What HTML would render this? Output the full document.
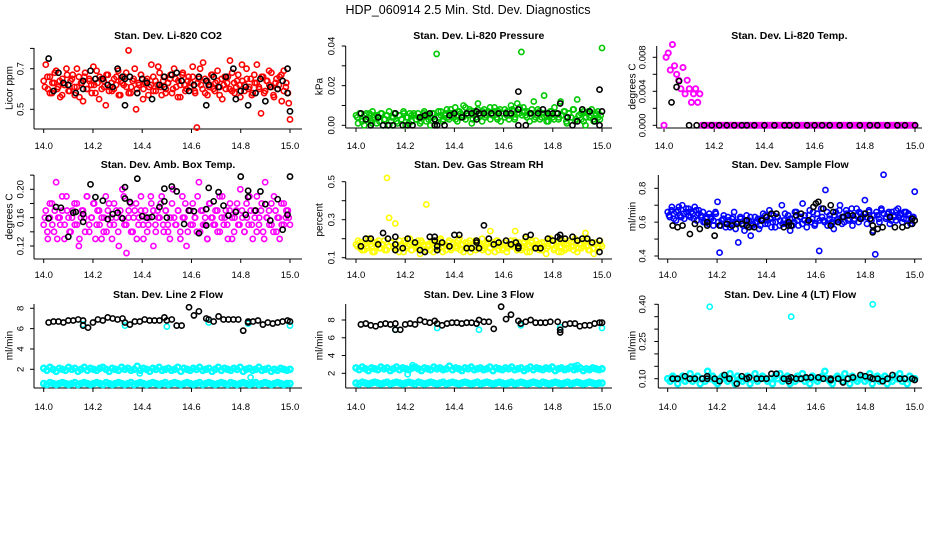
<!DOCTYPE html>
<html><head><meta charset="utf-8">
<style>
html,body{margin:0;padding:0;background:#fff;}
svg{display:block;}
text{font-family:"Liberation Sans",Arial,sans-serif;fill:#000;}
</style></head>
<body>
<svg id="chart" width="936" height="540" viewBox="0 0 936 540" xmlns="http://www.w3.org/2000/svg">
<rect width="936" height="540" fill="#fff"/>
<text x="468" y="14" text-anchor="middle" font-size="12.5">HDP_060914  2.5 Min. Std. Dev. Diagnostics</text>
</svg>
<script>
// ---------- DATA ----------
const xTicks=[14.0,14.2,14.4,14.6,14.8,15.0];
const xTickLabels=["14.0","14.2","14.4","14.6","14.8","15.0"];

const co2Red=[0.64,0.72,0.60,0.66,0.58,0.63,0.69,0.61,0.56,0.65,0.62,0.70,0.59,0.64,0.67,0.57,0.61,0.66,0.63,0.54,0.68,0.60,0.65,0.62,0.71,0.58,0.63,0.66,0.60,0.64,0.52,0.67,0.61,0.59,0.65,0.62,0.69,0.57,0.63,0.66,0.61,0.79,0.58,0.64,0.70,0.60,0.62,0.67,0.55,0.63,0.65,0.61,0.72,0.59,0.64,0.62,0.68,0.57,0.66,0.60,0.63,0.65,0.58,0.70,0.61,0.64,0.56,0.67,0.62,0.60,0.66,0.63,0.71,0.59,0.41,0.65,0.62,0.73,0.58,0.64,0.61,0.67,0.60,0.63,0.69,0.57,0.65,0.62,0.60,0.66,0.74,0.59,0.63,0.61,0.67,0.56,0.64,0.62,0.70,0.60,0.65,0.58,0.63,0.72,0.61,0.48,0.66,0.59,0.64,0.62,0.68,0.57,0.63,0.60,0.66,0.54,0.69,0.61,0.58,0.45];
const co2Red2=[0.61,0.66,0.58,0.63,0.68,0.60,0.64,0.57,0.62,0.67,0.59,0.65,0.61,0.70,0.56,0.63,0.66,0.60,0.64,0.58,0.62,0.69,0.55,0.65,0.61,0.67,0.59,0.63,0.60,0.66,0.57,0.64,0.62,0.68,0.58,0.61,0.65,0.50,0.63,0.67,0.60,0.64,0.57,0.62,0.66,0.59,0.71,0.61,0.64,0.58,0.63,0.67,0.60,0.65,0.56,0.62,0.68,0.59,0.64,0.61,0.66,0.58,0.63,0.70,0.60,0.65,0.57,0.62,0.67,0.59,0.64,0.61,0.55,0.66,0.63,0.60,0.68,0.58,0.64,0.62,0.72,0.59,0.65,0.61,0.57,0.67,0.63,0.60,0.66,0.58,0.64,0.69,0.61,0.56,0.65,0.62,0.67,0.59,0.63,0.53];
const co2BlackT=[14.02,14.04,14.06,14.08,14.10,14.13,14.16,14.16,14.19,14.21,14.24,14.26,14.28,14.30,14.32,14.33,14.33,14.35,14.38,14.40,14.42,14.44,14.47,14.49,14.49,14.52,14.54,14.56,14.59,14.61,14.63,14.66,14.66,14.67,14.69,14.71,14.74,14.77,14.78,14.80,14.82,14.83,14.86,14.88,14.90,14.92,14.95,14.97,14.99,14.99,15.00];
const co2BlackV=[0.75,0.59,0.68,0.63,0.62,0.58,0.64,0.60,0.69,0.65,0.65,0.62,0.61,0.70,0.66,0.52,0.65,0.66,0.58,0.65,0.63,0.55,0.62,0.66,0.61,0.67,0.68,0.64,0.59,0.62,0.66,0.64,0.52,0.62,0.66,0.61,0.66,0.70,0.55,0.59,0.61,0.52,0.58,0.65,0.54,0.61,0.60,0.64,0.70,0.58,0.49];

const presGreen=[.005,.001,.006,.003,.000,.006,.004,.002,.007,.005,.001,.004,.006,.000,.003,.005,.007,.002,.004,.006,.001,.005,.003,.007,.000,.004,.006,.002,.005,.003,.006,.001,.004,.007,.002,.005,.000,.006,.003,.036,.004,.007,.002,.005,.008,.003,.006,.004,.009,.002,.007,.005,.010,.003,.006,.008,.001,.007,.004,.011,.006,.002,.008,.005,.007,.003,.006,.009,.004,.007,.002,.006,.008,.005,.003,.010,.007,.004,.011,.006,.037,.009,.005,.007,.002,.006,.012,.004,.008,.003,.006,.015,.005,.002,.007,.004,.009,.006,.003,.012,.005,.007,.001,.006,.004,.008,.002,.013,.005,.003,.007,.000,.006,.004,.008,.002,.005,.007,.003,.039];
const presGreen2=[.004,.006,.002,.005,.003,.006,.001,.004,.005,.002,.006,.003,.005,.000,.004,.006,.002,.005,.003,.006,.004,.001,.005,.006,.003,.004,.002,.006,.005,.003,.004,.006,.002,.007,.005,.003,.006,.004,.008,.005,.003,.007,.006,.004,.009,.005,.007,.003,.006,.008,.005,.007,.004,.006,.009,.005,.007,.003,.008,.006,.004,.007,.005,.008,.003,.006,.009,.005,.007,.004,.006,.008,.003,.005,.007,.004,.006,.002,.005,.007,.003,.006,.004,.005,.007,.002,.006,.004,.008,.003,.005,.006,.002,.004,.007,.005,.003,.006,.004,.005];
const presBlackT=[14.02,14.04,14.06,14.09,14.11,14.13,14.15,14.16,14.19,14.21,14.23,14.26,14.28,14.30,14.32,14.32,14.33,14.36,14.38,14.40,14.43,14.45,14.47,14.49,14.49,14.50,14.52,14.55,14.58,14.61,14.63,14.66,14.66,14.66,14.69,14.71,14.74,14.76,14.78,14.80,14.82,14.83,14.86,14.88,14.90,14.92,14.95,14.97,14.99,14.99,15.00];
const presBlackV=[.006,.003,.000,.004,.000,.000,.000,.006,.000,.000,.000,.004,.005,.006,.003,.000,.000,.000,.005,.006,.004,.006,.006,.003,.007,.006,.006,.006,.006,.006,.006,.017,.008,.000,.000,.006,.006,.008,.006,.006,.006,.011,.004,.000,.002,.008,.007,.002,.000,.018,.007];

const tempMagenta=[0,.008,.0085,.0065,.0095,.007,.006,.0053,.0043,.0068,.0037,.0053,.0043,.0027,.0037,.0043,.0027,.0037,0,0,0,0,0,0,0,0,0,0,0,0,0,0,0,0,0,0,0,0,0,0,0,0,0,0,0,0,0,0,0,0,0,0,0,0,0,0,0,0,0,0,0,0,0,0,0,0,0,0,0,0,0,0,0,0,0,0,0,0,0,0,0,0,0,0,0,0,0,0,0,0,0,0,0,0,0,0,0,0,0,0,0,0,0,0,0,0,0,0,0,0,0,0,0,0,0,0,0,0,0,0];
const tempBlackT=[14.03,14.05,14.06,14.10,14.13,14.16,14.19,14.22,14.25,14.28,14.31,14.33,14.36,14.40,14.44,14.48,14.50,14.53,14.57,14.60,14.63,14.66,14.70,14.74,14.78,14.82,14.85,14.89,14.93,14.96,15.00];
const tempBlackV=[.0027,.0045,.0052,0,0,0,0,0,0,0,0,0,0,0,0,0,0,0,0,0,0,0,0,0,0,0,0,0,0,0,0];

const ambMagenta=[0.15,0.17,0.13,0.16,0.18,0.14,0.21,0.16,0.15,0.17,0.13,0.19,0.16,0.14,0.17,0.15,0.18,0.12,0.16,0.17,0.14,0.19,0.15,0.16,0.18,0.13,0.17,0.15,0.16,0.14,0.19,0.17,0.15,0.13,0.18,0.16,0.14,0.17,0.20,0.15,0.11,0.16,0.18,0.14,0.17,0.13,0.16,0.19,0.15,0.17,0.14,0.16,0.18,0.12,0.15,0.17,0.16,0.19,0.14,0.17,0.15,0.13,0.18,0.16,0.15,0.17,0.14,0.19,0.16,0.12,0.17,0.15,0.18,0.16,0.14,0.21,0.17,0.15,0.16,0.13,0.18,0.16,0.15,0.17,0.14,0.19,0.16,0.15,0.17,0.13,0.18,0.16,0.14,0.17,0.15,0.20,0.16,0.14,0.18,0.15,0.17,0.13,0.16,0.19,0.15,0.17,0.14,0.21,0.16,0.15,0.18,0.14,0.17,0.16,0.13,0.15,0.18,0.16,0.17,0.15];
const ambMagenta2=[0.16,0.14,0.18,0.15,0.17,0.13,0.16,0.19,0.15,0.17,0.14,0.16,0.18,0.15,0.13,0.17,0.16,0.19,0.14,0.16,0.18,0.15,0.17,0.13,0.16,0.14,0.18,0.16,0.15,0.17,0.12,0.16,0.19,0.15,0.17,0.14,0.16,0.18,0.15,0.17,0.13,0.16,0.15,0.19,0.17,0.14,0.16,0.18,0.15,0.17,0.14,0.16,0.20,0.15,0.17,0.13,0.16,0.18,0.14,0.17,0.15,0.16,0.19,0.14,0.17,0.15,0.13,0.18,0.16,0.15,0.17,0.14,0.19,0.16,0.15,0.17,0.13,0.16,0.18,0.15,0.17,0.14,0.16,0.19,0.15,0.17,0.14,0.16,0.18,0.13,0.16,0.17,0.15,0.19,0.14,0.16,0.18,0.15,0.17,0.16];
const ambBlackT=[14.02,14.05,14.07,14.10,14.12,14.13,14.16,14.16,14.19,14.21,14.24,14.26,14.28,14.30,14.32,14.33,14.33,14.35,14.38,14.40,14.42,14.44,14.47,14.49,14.49,14.50,14.52,14.54,14.57,14.59,14.61,14.63,14.66,14.66,14.67,14.69,14.71,14.73,14.75,14.78,14.80,14.82,14.83,14.83,14.86,14.88,14.90,14.92,14.95,14.97,14.99,15.00];
const ambBlackV=[.159,.175,.174,.133,.167,.168,.165,.154,.207,.189,.184,.158,.165,.167,.159,.203,.187,.182,.215,.162,.160,.161,.175,.201,.183,.160,.204,.197,.151,.170,.169,.138,.149,.172,.202,.183,.196,.177,.163,.168,.218,.164,.189,.198,.170,.197,.179,.156,.186,.143,.164,.218];

const rhYellow=[.17,.19,.15,.18,.14,.16,.20,.17,.13,.18,.16,.19,.15,.17,.14,.52,.31,.18,.16,.28,.15,.19,.17,.13,.18,.16,.20,.14,.17,.15,.19,.12,.18,.16,.38,.17,.14,.19,.16,.18,.15,.20,.13,.17,.16,.19,.14,.18,.16,.15,.20,.17,.13,.18,.16,.19,.15,.17,.14,.18,.16,.20,.15,.17,.13,.24,.18,.16,.19,.14,.17,.15,.18,.13,.16,.19,.17,.24,.15,.18,.14,.16,.20,.17,.13,.18,.16,.19,.15,.17,.14,.18,.12,.16,.20,.17,.15,.18,.13,.16,.19,.14,.17,.15,.18,.16,.20,.13,.17,.15,.19,.23,.16,.14,.18,.12,.17,.15,.19,.16];
const rhYellow2=[.16,.18,.14,.17,.15,.19,.16,.13,.18,.15,.17,.19,.14,.16,.18,.15,.17,.13,.16,.19,.15,.17,.14,.18,.16,.15,.19,.17,.14,.16,.18,.13,.17,.15,.19,.16,.14,.18,.15,.17,.16,.19,.14,.17,.15,.18,.13,.16,.19,.15,.17,.14,.16,.18,.15,.17,.13,.19,.16,.14,.18,.15,.17,.16,.19,.14,.17,.15,.18,.13,.16,.19,.15,.17,.14,.18,.16,.15,.19,.17,.14,.16,.18,.13,.17,.15,.19,.16,.14,.18,.15,.17,.16,.19,.14,.17,.15,.18,.16,.17];
const rhBlackT=[14.02,14.04,14.06,14.09,14.11,14.13,14.16,14.16,14.16,14.19,14.21,14.24,14.26,14.28,14.30,14.32,14.32,14.33,14.33,14.35,14.38,14.40,14.42,14.45,14.47,14.49,14.49,14.50,14.52,14.54,14.56,14.58,14.61,14.63,14.65,14.66,14.66,14.69,14.71,14.73,14.75,14.78,14.80,14.82,14.83,14.83,14.85,14.88,14.90,14.92,14.94,14.96,14.99,14.99];
const rhBlackV=[.16,.20,.20,.17,.23,.20,.21,.17,.14,.15,.20,.18,.14,.13,.21,.21,.19,.16,.14,.18,.16,.22,.22,.15,.15,.19,.18,.15,.27,.20,.17,.18,.19,.17,.18,.16,.15,.21,.22,.15,.15,.20,.19,.21,.22,.20,.20,.21,.19,.20,.20,.18,.19,.13];

const flowBlue=[.66,.63,.69,.65,.61,.67,.64,.70,.62,.66,.68,.63,.65,.69,.61,.67,.64,.66,.60,.63,.65,.62,.58,.66,.72,.42,.61,.64,.59,.63,.57,.62,.66,.60,.48,.63,.59,.55,.64,.61,.52,.58,.63,.60,.56,.62,.65,.59,.61,.67,.57,.64,.60,.63,.58,.70,.61,.59,.64,.55,.62,.60,.66,.58,.63,.71,.61,.57,.64,.60,.66,.59,.62,.43,.68,.61,.79,.58,.64,.60,.56,.66,.62,.70,.59,.63,.67,.61,.65,.58,.62,.68,.60,.65,.63,.73,.59,.66,.62,.55,.41,.64,.60,.67,.88,.62,.65,.59,.66,.63,.61,.68,.64,.60,.66,.62,.65,.59,.63,.78];
const flowBlue2=[.64,.67,.62,.66,.69,.63,.65,.68,.64,.66,.62,.67,.65,.63,.60,.62,.59,.63,.61,.65,.60,.58,.62,.57,.61,.59,.63,.56,.60,.62,.58,.61,.57,.63,.59,.60,.62,.58,.61,.64,.59,.62,.60,.57,.63,.61,.59,.65,.60,.62,.58,.66,.61,.63,.59,.64,.60,.67,.62,.58,.65,.61,.63,.60,.66,.62,.59,.64,.61,.67,.63,.60,.65,.62,.68,.61,.64,.66,.62,.65,.63,.67,.61,.64,.66,.62,.68,.65,.63,.66,.61,.64,.67,.63,.65,.62,.66,.64,.61,.63];
const flowBlackT=[14.02,14.04,14.06,14.09,14.11,14.13,14.16,14.16,14.19,14.21,14.24,14.26,14.28,14.30,14.32,14.32,14.33,14.35,14.38,14.40,14.42,14.44,14.47,14.49,14.49,14.50,14.52,14.54,14.57,14.59,14.60,14.61,14.63,14.66,14.66,14.67,14.69,14.71,14.73,14.75,14.78,14.80,14.82,14.83,14.83,14.85,14.87,14.90,14.92,14.95,14.97,14.99,14.99,15.00];
const flowBlackV=[.58,.57,.58,.53,.59,.56,.60,.58,.52,.58,.59,.58,.59,.59,.61,.58,.57,.57,.61,.63,.65,.65,.57,.60,.58,.58,.64,.65,.61,.69,.71,.72,.68,.58,.70,.66,.60,.63,.64,.64,.62,.65,.62,.58,.54,.56,.57,.63,.57,.57,.58,.59,.62,.61];

const l2CyanHigh=[2.1,1.9,2.2,2.0,1.8,2.1,2.0,1.9,2.2,2.0,2.1,1.8,2.0,2.2,1.9,2.1,2.0,1.9,2.1,2.2,2.0,1.8,2.1,2.0,1.9,2.2,2.0,2.1,1.9,2.0,2.3,1.9,2.1,2.0,1.8,2.1,2.0,2.2,1.9,2.0,2.1,1.9,2.0,2.2,1.8,2.1,2.0,1.9,2.1,2.0,2.2,1.9,2.0,2.1,1.8,2.0,2.2,1.9,2.1,2.0,1.9,2.1,2.0,2.2,1.8,2.0,2.1,1.9,2.0,2.2,1.9,2.0,2.1,1.8,2.0,1.9,2.1,2.0,1.9,2.0];
const l2CyanLow=[0.6,0.5,0.7,0.6,0.5,0.6,0.7,0.6,0.5,0.6,0.7,0.5,0.6,0.7,0.6,0.5,0.6,0.7,0.6,0.5,0.7,0.6,0.5,0.6,0.7,0.6,0.5,0.6,0.7,0.5,0.6,0.7,0.6,0.5,0.6,0.7,0.6,0.5,0.6,0.7,0.5,0.6,0.7,0.6,0.5,0.6,0.7,0.6,0.5,0.6,0.7,0.5,0.6,0.7,0.6,0.5,0.6,0.7,0.6,0.5,0.7,0.6,0.5,0.6,0.7,0.6,0.5,0.6,0.7,0.5,0.6,0.7,0.6,0.5,0.6,0.7,0.6,0.5,0.6,0.6];
const l2CyanExtraT=[14.16,14.33,14.39,14.50,14.67,14.83,14.84,15.00];
const l2CyanExtraV=[6.4,6.3,1.6,6.2,6.6,6.5,1.2,6.3];
const l2BlackT=[14.02,14.04,14.06,14.08,14.10,14.12,14.14,14.16,14.16,14.18,14.20,14.22,14.24,14.26,14.28,14.30,14.32,14.33,14.35,14.37,14.39,14.41,14.43,14.45,14.47,14.49,14.50,14.52,14.54,14.56,14.59,14.61,14.63,14.66,14.67,14.69,14.71,14.73,14.75,14.77,14.79,14.81,14.83,14.83,14.85,14.87,14.89,14.91,14.93,14.95,14.97,14.99,15.00];
const l2BlackV=[6.6,6.7,6.7,6.6,6.8,6.8,6.9,6.3,6.8,6.1,6.6,6.9,6.8,7.1,7.0,6.9,7.0,6.6,6.4,6.7,6.7,6.9,6.8,6.8,6.8,7.1,6.8,6.9,6.3,6.3,8.1,7.3,7.7,7.0,6.9,6.7,7.2,6.9,6.9,6.9,6.9,5.8,6.6,6.7,6.7,6.8,6.4,6.6,6.5,6.6,6.7,6.8,6.7];

const l3CyanHigh=[2.6,2.4,2.7,2.5,2.3,2.6,2.5,2.4,2.7,2.5,2.6,2.3,2.5,2.7,2.4,2.6,2.5,2.4,2.6,2.7,2.5,2.3,2.6,2.5,2.4,2.7,2.5,2.6,2.4,2.5,2.8,2.4,2.6,2.5,2.3,2.6,2.5,2.7,2.4,2.5,2.6,2.4,2.5,2.7,2.3,2.6,2.5,2.4,2.6,2.5,2.7,2.4,2.5,2.6,2.3,2.5,2.7,2.4,2.6,2.5,2.4,2.6,2.5,2.7,2.3,2.5,2.6,2.4,2.5,2.7,2.4,2.5,2.6,2.3,2.5,2.4,2.6,2.5,2.4,2.5];
const l3CyanLow=[0.9,0.8,1.0,0.9,0.8,0.9,1.0,0.9,0.8,0.9,1.0,0.8,0.9,1.0,0.9,0.8,0.9,1.0,0.9,0.8,1.0,0.9,0.8,0.9,1.0,0.9,0.8,0.9,1.0,0.8,0.9,1.0,0.9,0.8,0.9,1.0,0.9,0.8,0.9,1.0,0.8,0.9,1.0,0.9,0.8,0.9,1.0,0.9,0.8,0.9,1.0,0.8,0.9,1.0,0.9,0.8,0.9,1.0,0.9,0.8,1.0,0.9,0.8,0.9,1.0,0.9,0.8,0.9,1.0,0.8,0.9,1.0,0.9,0.8,0.9,1.0,0.9,0.8,0.9,0.9];
const l3CyanExtraT=[14.16,14.21,14.23,14.33,14.50,14.67,14.83,14.89,14.90,15.00];
const l3CyanExtraV=[6.9,1.9,2.9,7.1,6.9,7.4,7.2,2.8,2.9,7.1];
const l3BlackT=[14.02,14.04,14.06,14.08,14.10,14.12,14.14,14.16,14.16,14.18,14.20,14.22,14.24,14.26,14.28,14.30,14.32,14.33,14.35,14.37,14.39,14.41,14.43,14.45,14.47,14.49,14.50,14.52,14.54,14.56,14.59,14.61,14.63,14.66,14.67,14.69,14.71,14.73,14.75,14.77,14.79,14.82,14.83,14.83,14.85,14.87,14.89,14.91,14.93,14.95,14.97,14.99,15.00];
const l3BlackV=[7.5,7.6,7.4,7.3,7.5,7.6,7.5,7.6,6.9,6.9,7.5,7.6,7.5,8.0,7.8,7.7,7.9,7.6,7.4,7.6,7.7,7.7,7.6,7.7,7.7,7.6,8.0,7.8,7.8,7.0,9.5,8.1,8.6,7.9,7.6,7.8,8.0,7.7,7.7,7.7,7.8,7.8,6.6,6.9,7.5,7.6,7.6,7.3,7.4,7.4,7.6,7.7,7.7];

const l4Cyan=[.10,.09,.11,.10,.08,.10,.11,.09,.10,.12,.09,.10,.11,.08,.10,.09,.13,.10,.11,.09,.08,.10,.11,.10,.09,.12,.10,.08,.11,.10,.09,.10,.11,.08,.10,.12,.09,.10,.11,.10,.09,.10,.08,.11,.10,.12,.09,.10,.11,.08,.10,.09,.11,.10,.12,.09,.10,.08,.11,.10,.09,.10,.11,.13,.10,.09,.08,.10,.11,.10,.09,.12,.10,.08,.11,.10,.09,.10,.11,.09,.10,.12,.08,.10,.11,.09,.10,.11,.08,.10,.09,.11,.10,.12,.09,.10,.08,.11,.10,.10];
const l4CyanExtraT=[14.17,14.50,14.83];
const l4CyanExtraV=[.39,.35,.40];
const l4BlackT=[14.02,14.04,14.07,14.09,14.11,14.14,14.16,14.16,14.19,14.21,14.23,14.25,14.28,14.30,14.32,14.33,14.36,14.38,14.40,14.42,14.44,14.47,14.49,14.49,14.50,14.52,14.54,14.56,14.58,14.61,14.63,14.66,14.66,14.69,14.71,14.73,14.75,14.78,14.80,14.82,14.83,14.85,14.87,14.89,14.91,14.94,14.96,14.99,15.00];
const l4BlackV=[.10,.10,.11,.10,.10,.10,.11,.10,.10,.09,.115,.10,.08,.11,.10,.105,.10,.10,.10,.12,.12,.10,.10,.09,.105,.10,.10,.105,.105,.105,.10,.10,.095,.10,.085,.10,.105,.115,.11,.105,.10,.10,.09,.10,.115,.10,.10,.10,.095];

// ---------- RENDER ----------
const NS="http://www.w3.org/2000/svg";
const svg=document.getElementById('chart');
function mk(tag,attrs,parent){const e=document.createElementNS(NS,tag);for(const k in attrs)e.setAttribute(k,attrs[k]);(parent||svg).appendChild(e);return e;}

const panels=[
 {id:'co2',title:'Stan. Dev. Li-820 CO2',ylab:'Licor ppm',ax:34,xa:43.7,xb:290,xr:302,ytop:48,ybot:128,v1:0.5,p1:109.3,v2:0.7,p2:68.7,ticks:[0.5,0.6,0.7,0.8],lab:[0.5,0.7],fmt:1,tlx:20,ttx:9,tty:35,lx:145},
 {id:'pressure',title:'Stan. Dev. Li-820 Pressure',ylab:'kPa',ax:345.7,xa:356,xb:602,xr:612,ytop:46,ybot:127,v1:0,p1:125.3,v2:0.04,p2:46,ticks:[0,0.01,0.02,0.03,0.04],lab:[0,0.02,0.04],fmt:2,tlx:331,ttx:319,tty:35,lx:145},
 {id:'temp',title:'Stan. Dev. Li-820 Temp.',ylab:'degrees C',ax:656.7,xa:664,xb:915,xr:922,ytop:46,ybot:127,v1:0,p1:125.3,v2:0.008,p2:57.3,ticks:[0,0.002,0.004,0.006,0.008],lab:[0,0.004,0.008],fmt:3,tlx:642,ttx:632,tty:35,lx:145},
 {id:'amb',title:'Stan. Dev. Amb. Box Temp.',ylab:'degrees C',ax:34,xa:43.7,xb:290,xr:302,ytop:175,ybot:258,v1:0.12,p1:246,v2:0.20,p2:189.3,ticks:[0.12,0.14,0.16,0.18,0.20,0.22],lab:[0.12,0.16,0.20],fmt:2,tlx:20,ttx:9,tty:164,lx:274},
 {id:'rh',title:'Stan. Dev. Gas Stream RH',ylab:'percent',ax:345.7,xa:356,xb:602,xr:612,ytop:181.7,ybot:258,v1:0.1,p1:257.7,v2:0.5,p2:181.7,ticks:[0.1,0.2,0.3,0.4,0.5],lab:[0.1,0.3,0.5],fmt:1,tlx:331,ttx:319,tty:164,lx:274},
 {id:'sampleflow',title:'Stan. Dev. Sample Flow',ylab:'ml/min',ax:658.3,xa:667.7,xb:914.7,xr:922,ytop:175,ybot:258,v1:0.4,p1:256,v2:0.8,p2:188.3,ticks:[0.4,0.5,0.6,0.7,0.8],lab:[0.4,0.6,0.8],fmt:1,tlx:642,ttx:632,tty:164,lx:274},
 {id:'line2',title:'Stan. Dev. Line 2 Flow',ylab:'ml/min',ax:34,xa:43.7,xb:290,xr:302,ytop:304,ybot:387,v1:2,p1:369.3,v2:8,p2:308.3,ticks:[2,4,6,8],lab:[2,4,6,8],fmt:0,tlx:20,ttx:9,tty:294,lx:406},
 {id:'line3',title:'Stan. Dev. Line 3 Flow',ylab:'ml/min',ax:345.7,xa:356,xb:602,xr:612,ytop:304,ybot:387,v1:2,p1:373.3,v2:8,p2:320,ticks:[2,4,6,8],lab:[2,4,6,8],fmt:0,tlx:331,ttx:319,tty:294,lx:406},
 {id:'line4',title:'Stan. Dev. Line 4 (LT) Flow',ylab:'ml/min',ax:658.3,xa:667.7,xb:914.7,xr:922,ytop:304,ybot:387,v1:0.10,p1:378.7,v2:0.40,p2:304.3,ticks:[0.10,0.15,0.20,0.25,0.30,0.35,0.40],lab:[0.10,0.25,0.40],fmt:2,tlx:642,ttx:632,tty:294,lx:406}
];

function xs(p,t){return p.xa+(t-14)*(p.xb-p.xa);}
function ys(p,v){return p.p1+(v-p.v1)*(p.p2-p.p1)/(p.v2-p.v1);}

panels.forEach(p=>{
  const g=mk('g',{});
  
  
  p.g=g;
  const t=mk('text',{x:(p.ax+p.xr)/2,y:p.tty+4,'text-anchor':'middle','font-size':'10.5','font-weight':'bold'},g);
  t.textContent=p.title;
  
  
  const axl=mk('path',{d:`M${p.ax},${p.ytop}V${p.ybot+1}M${p.ax},${p.ybot+1}H${p.xr}`,stroke:'#000','stroke-width':1,fill:'none'},g);
  
  
  p.ticks.forEach(v=>{
    const y=ys(p,v);
    const tk=mk('line',{x1:p.ax-4,x2:p.ax,y1:y,y2:y,stroke:'#000','stroke-width':1},g);
    
    
  });
  p.lab.forEach(v=>{
    const y=ys(p,v);
    const tl=mk('text',{x:0,y:0,'text-anchor':'middle','font-size':'9.5',transform:`translate(${p.tlx+3.5},${y}) rotate(-90)`},g);
    tl.textContent=v.toFixed(p.fmt);
    
    
  });
  const yt=mk('text',{x:0,y:0,'text-anchor':'middle','font-size':'10',transform:`translate(${p.ttx+3.5},${(p.ytop+p.ybot)/2}) rotate(-90)`},g);
  yt.textContent=p.ylab;
  
  
  xTicks.forEach((v,i)=>{
    const x=xs(p,v);
    const tk=mk('line',{x1:x,x2:x,y1:p.ybot+1,y2:p.ybot+5,stroke:'#000','stroke-width':1},g);
    
    
    const tl=mk('text',{x:x,y:p.lx+4,'text-anchor':'middle','font-size':'9.5'},g);
    tl.textContent=xTickLabels[i];
    
    
  });
});
const P={};panels.forEach(p=>P[p.id]=p);

function dot(p,t,v,color,name,sw){
  const c=mk('circle',{cx:xs(p,t),cy:ys(p,v),r:2.6,fill:'none',stroke:color,'stroke-width':sw||1.6},p.g);
  
  
}
function seriesIdx(p,vals,color,name,sw){vals.forEach((v,i)=>dot(p,14+i/(vals.length-1),v,color,name,sw));}
function seriesMid(p,vals,color,name,sw){vals.forEach((v,i)=>dot(p,14+(i+0.5)/vals.length,v,color,name,sw));}
function seriesXY(p,ts,vs,color,name,sw){const n=Math.min(ts.length,vs.length);for(let i=0;i<n;i++)dot(p,ts[i],vs[i],color,name,sw);}

seriesIdx(P.co2,co2Red,'#ff0000','co2-point');
seriesMid(P.co2,co2Red2,'#ff0000','co2-point');
seriesXY(P.co2,co2BlackT,co2BlackV,'#000','co2-black-point');
seriesIdx(P.pressure,presGreen,'#00c800','pressure-point');
seriesMid(P.pressure,presGreen2,'#00c800','pressure-point');
seriesXY(P.pressure,presBlackT,presBlackV,'#000','pressure-black-point');
seriesIdx(P.temp,tempMagenta,'#ff00ff','temp-point',1.9);
seriesXY(P.temp,tempBlackT,tempBlackV,'#000','temp-black-point');
seriesIdx(P.amb,ambMagenta,'#ff00ff','amb-temp-point');
seriesMid(P.amb,ambMagenta2,'#ff00ff','amb-temp-point');
seriesXY(P.amb,ambBlackT,ambBlackV,'#000','amb-temp-black-point');
seriesIdx(P.rh,rhYellow,'#ffff00','rh-point');
seriesMid(P.rh,rhYellow2,'#ffff00','rh-point');
seriesXY(P.rh,rhBlackT,rhBlackV,'#000','rh-black-point');
seriesIdx(P.sampleflow,flowBlue,'#0000ff','sample-flow-point');
seriesMid(P.sampleflow,flowBlue2,'#0000ff','sample-flow-point');
seriesXY(P.sampleflow,flowBlackT,flowBlackV,'#000','sample-flow-black-point');
seriesIdx(P.line2,l2CyanHigh,'#00ffff','line2-cyan-point',2.4);
seriesIdx(P.line2,l2CyanLow,'#00ffff','line2-cyan-point',2.4);
seriesXY(P.line2,l2CyanExtraT,l2CyanExtraV,'#00ffff','line2-cyan-point');
seriesXY(P.line2,l2BlackT,l2BlackV,'#000','line2-black-point');
seriesIdx(P.line3,l3CyanHigh,'#00ffff','line3-cyan-point',2.4);
seriesIdx(P.line3,l3CyanLow,'#00ffff','line3-cyan-point',2.4);
seriesXY(P.line3,l3CyanExtraT,l3CyanExtraV,'#00ffff','line3-cyan-point');
seriesXY(P.line3,l3BlackT,l3BlackV,'#000','line3-black-point');
seriesIdx(P.line4,l4Cyan,'#00ffff','line4-cyan-point',2.4);
seriesXY(P.line4,l4CyanExtraT,l4CyanExtraV,'#00ffff','line4-cyan-point');
seriesXY(P.line4,l4BlackT,l4BlackV,'#000','line4-black-point');
</script>
</body></html>
